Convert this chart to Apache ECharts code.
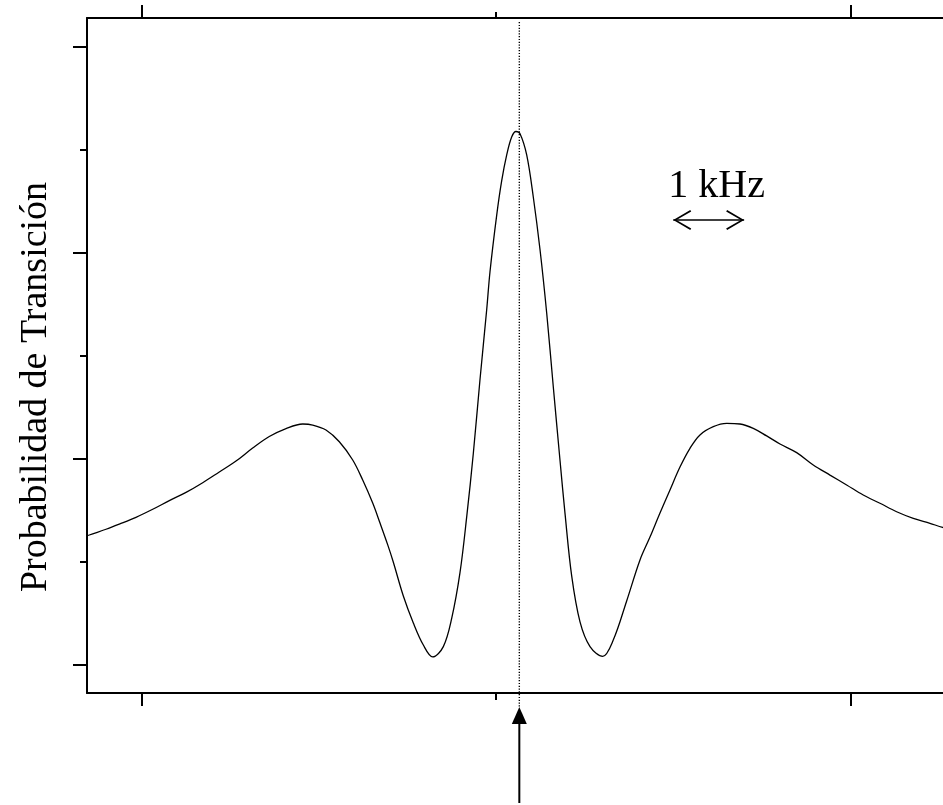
<!DOCTYPE html>
<html>
<head>
<meta charset="utf-8">
<script src="https://cdn.jsdelivr.net/npm/echarts@6/dist/echarts.min.js"></script>
<style>html,body{margin:0;padding:0;background:#fff}#c{width:943px;height:805px}</style>
</head>
<body>
<div id="c"></div>
<script>
// Detuning (kHz) and transition probability (arbitrary units, major tick = 1)
const detuning = [-5.80,-5.736,-5.501,-5.313,-5.078,-4.842,-4.608,-4.372,-4.137,-3.903,-3.667,-3.432,-3.198,-2.962,-2.726,-2.585,-2.398,-2.210,-2.021,-1.880,-1.739,-1.636,-1.527,-1.449,-1.307,-1.166,-1.025,-0.893,-0.743,-0.625,-0.508,-0.413,-0.320,-0.226,-0.131,-0.085,0.010,0.080,0.151,0.221,0.282,0.339,0.433,0.526,0.621,0.715,0.808,0.903,0.973,1.068,1.185,1.326,1.505,1.654,1.843,2.031,2.172,2.313,2.454,2.595,2.736,2.877,3.065,3.254,3.441,3.629,3.818,4.006,4.241,4.475,4.711,4.946,5.180,5.416,5.651,5.886,6.121,6.300,6.45];
const probability = [0.622,0.631,0.659,0.684,0.717,0.756,0.798,0.838,0.885,0.937,0.990,1.053,1.109,1.148,1.170,1.165,1.141,1.084,0.995,0.898,0.786,0.689,0.583,0.500,0.335,0.204,0.097,0.039,0.089,0.226,0.448,0.720,1.027,1.385,1.726,1.908,2.184,2.350,2.476,2.563,2.590,2.579,2.476,2.272,2.016,1.709,1.351,0.993,0.737,0.431,0.209,0.089,0.042,0.121,0.311,0.510,0.621,0.738,0.850,0.961,1.052,1.117,1.157,1.173,1.170,1.149,1.112,1.073,1.031,0.971,0.922,0.874,0.825,0.785,0.744,0.712,0.688,0.668,0.658];
const xMajorTicks = [-5, 5];
const xMinorTicks = [0];
const yMajorTicks = [0, 1, 2, 3];
const yMinorTicks = [0.5, 1.5, 2.5];
const resonance = 0.329;
const scaleBar = [2.5, 3.5];
const scaleBarY = 2.16;
const yLabel = 'Probabilidad de Transición';
const scaleLabel = '1 kHz';

const xMin = -5.769, xMax = 6.305, yMin = -0.136, yMax = 3.141;
const FONT = '"Liberation Serif", "Times New Roman", Times, serif';

function xAx(pos, ticks, len, line) {
  return {type:'value', min:xMin, max:xMax, position:pos,
    axisLine:{show:line, onZero:false, lineStyle:{color:'#000', width:2}},
    axisTick:{show:true, customValues:ticks, length:len, inside:false, lineStyle:{color:'#000', width:2}},
    axisLabel:{show:false}, splitLine:{show:false}};
}
function yAx(ticks, len, line) {
  return {type:'value', min:yMin, max:yMax, position:'left',
    axisLine:{show:line, onZero:false, lineStyle:{color:'#000', width:2}},
    axisTick:{show:true, customValues:ticks, length:len, inside:false, lineStyle:{color:'#000', width:2}},
    axisLabel:{show:false}, splitLine:{show:false}};
}
// open arrow head whose tip sits at the centre of its bounding box
const chevron = 'path://M0,-18 M0,0 L9,17 L7.6,18 L0,3.2 L-7.6,18 L-9,17 Z M0,18';

const chart = echarts.init(document.getElementById('c'), null, {renderer:'canvas'});
chart.setOption({
  animation:false,
  backgroundColor:'#fff',
  grid:{left:87, top:18, bottom:112, right:0, containLabel:false},
  xAxis:[xAx('bottom', xMajorTicks, 13, true), xAx('bottom', xMinorTicks, 7, false),
         xAx('top', xMajorTicks, 13, true), xAx('top', xMinorTicks, 6, false)],
  yAxis:[yAx(yMajorTicks, 14, true), yAx(yMinorTicks, 7, false)],
  graphic:[{type:'text', rotation:Math.PI/2, x:36, y:387,
    style:{text:yLabel, font:'38px ' + FONT, fill:'#000', align:'center', verticalAlign:'middle'}}],
  series:[
    {type:'line', xAxisIndex:0, yAxisIndex:0, data:detuning.map((d,i)=>[d, probability[i]]),
     showSymbol:false, smooth:0.35, lineStyle:{color:'#000', width:1.3}, clip:true, z:3},
    // dotted line marking the resonance
    {type:'line', xAxisIndex:0, yAxisIndex:0, clip:false, z:4, showSymbol:false, symbol:'none',
     data:[[resonance, yMax - 0.02], [resonance, -0.204]],
     lineStyle:{color:'#000', width:1.4, type:[1.2,1.6]}},
    // arrow below the axis
    {type:'line', xAxisIndex:0, yAxisIndex:0, clip:false, z:4, showSymbol:true,
     data:[{value:[resonance, -0.67], symbol:'none'},
           {value:[resonance, -0.245], symbol:'triangle', symbolSize:[15,17]}],
     itemStyle:{color:'#000'}, lineStyle:{color:'#000', width:2}},
    // 1 kHz scale bar
    {type:'line', xAxisIndex:0, yAxisIndex:0, data:[], z:4,
     markLine:{silent:true, animation:false, symbol:[chevron, chevron], symbolSize:[20,36],
       lineStyle:{color:'#000', width:1.5, type:'solid'},
       label:{show:true, position:'insideMiddleTop', distance:14, formatter:scaleLabel, color:'#000', fontSize:40, fontFamily:FONT, padding:[0,0,0,16]},
       data:[[{coord:[scaleBar[0], scaleBarY]}, {coord:[scaleBar[1], scaleBarY]}]]
     }}
  ]
});
</script>
</body>
</html>
